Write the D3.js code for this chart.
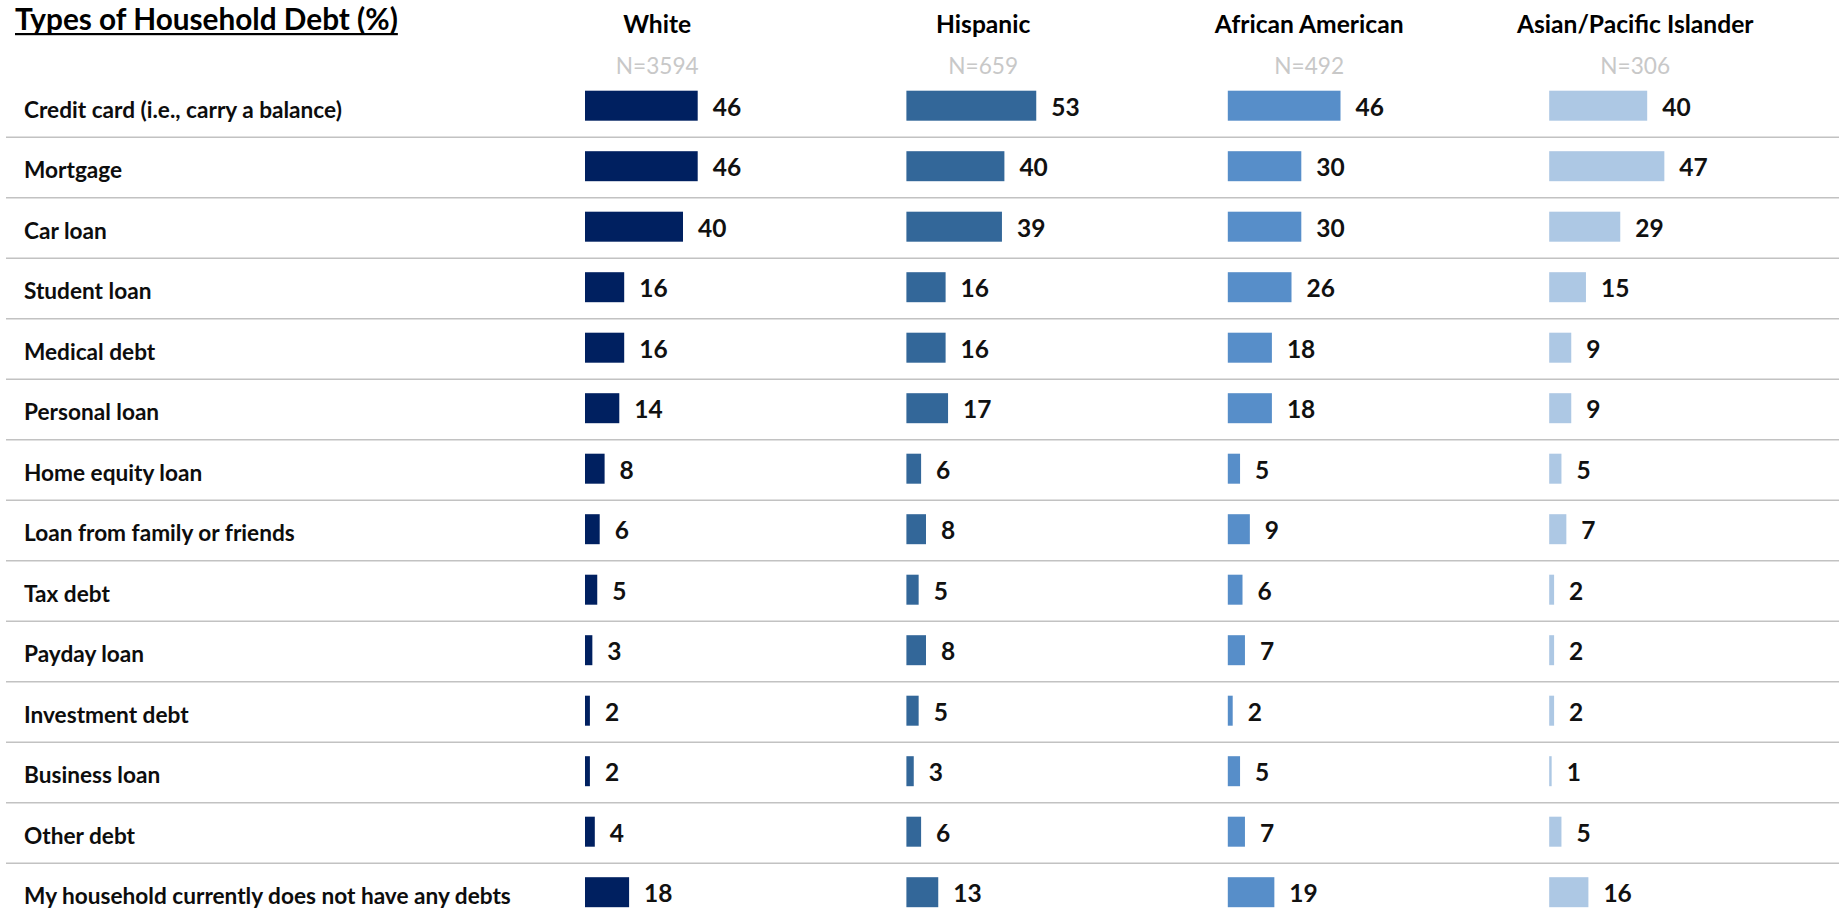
<!DOCTYPE html>
<html>
<head>
<meta charset="utf-8">
<script src="https://cdn.jsdelivr.net/npm/d3@7/dist/d3.min.js"></script>
<style>
  html, body { margin: 0; padding: 0; background: #ffffff; }
  svg { display: block; }
</style>
</head>
<body>
<svg id="chart" width="1839" height="917"></svg>
<script>
// ---------------- data ----------------
const titleText = "Types of Household Debt (%)";
const categories = [
  "Credit card (i.e., carry a balance)",
  "Mortgage",
  "Car loan",
  "Student loan",
  "Medical debt",
  "Personal loan",
  "Home equity loan",
  "Loan from family or friends",
  "Tax debt",
  "Payday loan",
  "Investment debt",
  "Business loan",
  "Other debt",
  "My household currently does not have any debts"
];
const groups = ["White", "Hispanic", "African American", "Asian/Pacific Islander"];
const sampleSizes = ["N=3594", "N=659", "N=492", "N=306"];
const whiteValues    = [46, 46, 40, 16, 16, 14, 8, 6, 5, 3, 2, 2, 4, 18];
const hispanicValues = [53, 40, 39, 16, 16, 17, 6, 8, 5, 8, 5, 3, 6, 13];
const africanAmericanValues = [46, 30, 30, 26, 18, 18, 5, 9, 6, 7, 2, 5, 7, 19];
const asianValues    = [40, 47, 29, 15, 9, 9, 5, 7, 2, 2, 2, 1, 5, 16];
const seriesValues = [whiteValues, hispanicValues, africanAmericanValues, asianValues];
const groupColors = ["#002060", "#336799", "#578ec9", "#adc8e4"];

// ---------------- layout ----------------
const W = 1839, H = 917;
const FONT = "Lato, 'Open Sans', sans-serif";
const svg = d3.select("#chart");

const rowStep = 60.5;
const firstRowCenter = 105.7;
const y = d3.scaleBand()
  .domain(categories)
  .range([firstRowCenter - rowStep / 2, firstRowCenter - rowStep / 2 + rowStep * categories.length])
  .paddingInner(0).paddingOuter(0);
const barH = 30;

// column origin for bars and header centres
const colStart = d3.scaleLinear().domain([0, 1]).range([585, 906.4]);
const headCenter = d3.scaleLinear().domain([0, 1]).range([657.2, 983.2]);
// value -> pixel length
const x = d3.scaleLinear().domain([0, 100]).range([0, 245]);

// fit helper: sets font size so that the reference string has a target width
function fitSize(str, weight, target) {
  const t = svg.append("text").attr("font-family", FONT).attr("font-weight", weight)
    .attr("font-size", 100).text(str);
  const w = t.node().getBBox().width;
  t.remove();
  return 100 * target / w;
}

const titleSize = fitSize(titleText, 700, 383);
const headSize = fitSize("Asian/Pacific Islander", 700, 237);
const nSize = fitSize("N=3594", 400, 83);
const labelSize = fitSize(categories[categories.length - 1], 700, 487);
const valueSize = 24.5;

// ---------------- title ----------------
const title = svg.append("text")
  .attr("x", 15).attr("y", 29.5)
  .attr("font-family", FONT).attr("font-weight", 700)
  .attr("font-size", titleSize).attr("fill", "#000")
  .text(titleText);
const tb = title.node().getBBox();
svg.append("rect")
  .attr("x", tb.x).attr("y", 33).attr("width", tb.width).attr("height", 2.2)
  .attr("fill", "#000");

// ---------------- separators ----------------
svg.append("g").selectAll("line")
  .data(categories.slice(0, categories.length - 1))
  .join("line")
  .attr("x1", 6).attr("x2", W)
  .attr("y1", d => y(d) + y.bandwidth() + 1.3)
  .attr("y2", d => y(d) + y.bandwidth() + 1.3)
  .attr("stroke", "#c2c2c2").attr("stroke-width", 1.6);

// ---------------- row labels ----------------
svg.append("g").selectAll("text")
  .data(categories)
  .join("text")
  .attr("x", 24)
  .attr("y", d => y(d) + y.bandwidth() / 2 + 11.8)
  .attr("font-family", FONT).attr("font-weight", 700)
  .attr("font-size", labelSize).attr("fill", "#0d0d0d")
  .text(d => d);

// ---------------- columns ----------------
groups.forEach((g, gi) => {
  const col = svg.append("g");
  col.append("text")
    .attr("x", headCenter(gi)).attr("y", 32.5)
    .attr("text-anchor", "middle")
    .attr("font-family", FONT).attr("font-weight", 700)
    .attr("font-size", headSize).attr("fill", "#000")
    .text(g);
  col.append("text")
    .attr("x", headCenter(gi)).attr("y", 74)
    .attr("text-anchor", "middle")
    .attr("font-family", FONT).attr("font-weight", 400)
    .attr("font-size", nSize).attr("fill", "#c8c8c8")
    .text(sampleSizes[gi]);

  const vals = seriesValues[gi];
  col.selectAll("rect.bar")
    .data(categories)
    .join("rect")
    .attr("class", "bar")
    .attr("x", colStart(gi))
    .attr("y", (d) => y(d) + y.bandwidth() / 2 - barH / 2)
    .attr("width", (d, i) => x(vals[i]))
    .attr("height", barH)
    .attr("fill", groupColors[gi]);

  col.selectAll("text.val")
    .data(categories)
    .join("text")
    .attr("class", "val")
    .attr("x", (d, i) => colStart(gi) + x(vals[i]) + 15)
    .attr("y", d => y(d) + y.bandwidth() / 2 + 10)
    .attr("font-family", FONT).attr("font-weight", 700)
    .attr("font-size", valueSize).attr("fill", "#111")
    .text((d, i) => vals[i]);
});
</script>
</body>
</html>
